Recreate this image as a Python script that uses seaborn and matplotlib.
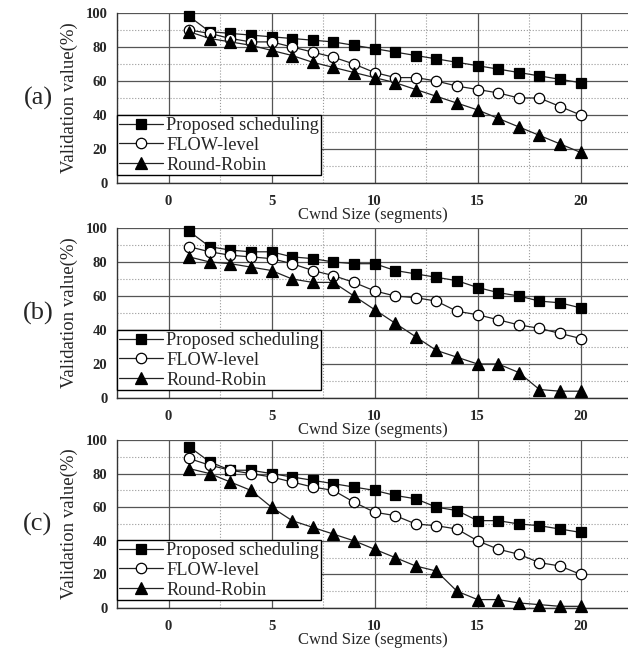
import numpy as np
import pandas as pd
import matplotlib
matplotlib.use("Agg")
import matplotlib.pyplot as plt
from matplotlib.ticker import MultipleLocator
import seaborn as sns

# Cwnd size (segments)
cwnd = list(range(1, 21))

# panel (a)
prop_a = [98, 89, 88, 87, 86, 85, 84, 83, 81, 79, 77, 75, 73, 71, 69, 67, 65, 63, 61, 59]
flow_a = [90, 88, 85, 83, 83, 80, 77, 74, 70, 65, 62, 62, 60, 57, 55, 53, 50, 50, 45, 40]
rr_a = [89, 85, 83, 81, 78, 75, 71, 68, 65, 62, 59, 55, 51, 47, 43, 38, 33, 28, 23, 18]

# panel (b)
prop_b = [98, 89, 87, 86, 86, 83, 82, 80, 79, 79, 75, 73, 71, 69, 65, 62, 60, 57, 56, 53]
flow_b = [89, 86, 84, 83, 82, 79, 75, 72, 68, 63, 60, 59, 57, 51, 49, 46, 43, 41, 38, 35]
rr_b = [83, 80, 79, 77, 75, 70, 68, 68, 60, 52, 44, 36, 28, 24, 20, 20, 15, 5, 4, 4]

# panel (c)
prop_c = [96, 87, 82, 82, 80, 78, 76, 74, 72, 70, 67, 65, 60, 58, 52, 52, 50, 49, 47, 45]
flow_c = [89, 85, 82, 80, 78, 75, 72, 70, 63, 57, 55, 50, 49, 47, 40, 35, 32, 27, 25, 20]
rr_c = [83, 80, 75, 70, 60, 52, 48, 44, 40, 35, 30, 25, 22, 10, 5, 5, 3, 2, 1, 1]

series_names = ["Proposed scheduling", "FLOW-level", "Round-Robin"]
panel_labels = ["(a)", "(b)", "(c)"]
panels = [(prop_a, flow_a, rr_a), (prop_b, flow_b, rr_b), (prop_c, flow_c, rr_c)]

sns.set_style("white")
plt.rcParams["font.family"] = ["Liberation Serif", "DejaVu Serif"]

fig = plt.figure(figsize=(6.28, 6.49), dpi=100)

# axes boxes in pixels: (top, bottom)
boxes = [(13, 183), (228, 398), (440, 608)]
W, H = 628, 649
left_px = 117

marker_style = {
    "Proposed scheduling": dict(marker="s", markersize=6.5, markerfacecolor="black"),
    "FLOW-level": dict(marker="o", markersize=7.5, markerfacecolor="white"),
    "Round-Robin": dict(marker="^", markersize=9, markerfacecolor="black"),
}

for (top, bot), vals, plab in zip(boxes, panels, panel_labels):
    ax = fig.add_axes([left_px / W, 1 - bot / H, 1 - left_px / W, (bot - top) / H])
    df = pd.DataFrame({"cwnd": cwnd * 3,
                       "value": vals[0] + vals[1] + vals[2],
                       "scheme": sum([[n] * len(cwnd) for n in series_names], [])})
    for name in series_names:
        sub = df[df["scheme"] == name]
        sns.lineplot(data=sub, x="cwnd", y="value", ax=ax, color="#222222",
                     linewidth=0.9, markeredgecolor="black", markeredgewidth=0.9,
                     label=name, clip_on=False, zorder=3, **marker_style[name])

    ax.set_xlim(-2.5, 22.3)
    ax.set_ylim(0, 100)
    ax.xaxis.set_major_locator(MultipleLocator(5))
    ax.xaxis.set_minor_locator(MultipleLocator(2.5))
    ax.yaxis.set_major_locator(MultipleLocator(20))
    ax.yaxis.set_minor_locator(MultipleLocator(10))
    ax.set_xticks([0, 5, 10, 15, 20])
    ax.set_xticklabels(["0", "5", "10", "15", "20"])

    ax.grid(which="major", color="#555555", linestyle="-", linewidth=0.9)
    ax.grid(which="minor", color="#999999", linestyle=":", linewidth=0.8)
    ax.set_axisbelow(True)

    for s in ["top", "right"]:
        ax.spines[s].set_visible(False)
    for s in ["left", "bottom"]:
        ax.spines[s].set_color("#333333")
        ax.spines[s].set_linewidth(1.0)

    ax.tick_params(which="major", direction="out", length=4, width=0.9,
                   color="#333333", labelsize=10.5, pad=3)
    ax.tick_params(which="minor", direction="out", length=2, width=0.8, color="#333333")
    ax.tick_params(axis="x", which="major", pad=4.5)
    for t in ax.get_xticklabels() + ax.get_yticklabels():
        t.set_fontweight("bold")

    ax.set_xlabel("Cwnd Size (segments)", fontsize=12, labelpad=-0.5)
    ax.set_ylabel("Validation value(%)", fontsize=13.5, labelpad=5)

    leg = ax.legend(loc="lower left", bbox_to_anchor=(0.0, 0.045), fontsize=13.2,
                    frameon=True, fancybox=False, edgecolor="black", framealpha=1,
                    handlelength=2.4, handletextpad=0.2, borderpad=0.1,
                    labelspacing=0.15, borderaxespad=0.0)
    leg.get_frame().set_linewidth(1.0)

    fig.text(38 / W, 1 - (top + bot) / 2 / H, plab, fontsize=19,
             ha="center", va="center")

fig.savefig("out.png", dpi=100)
